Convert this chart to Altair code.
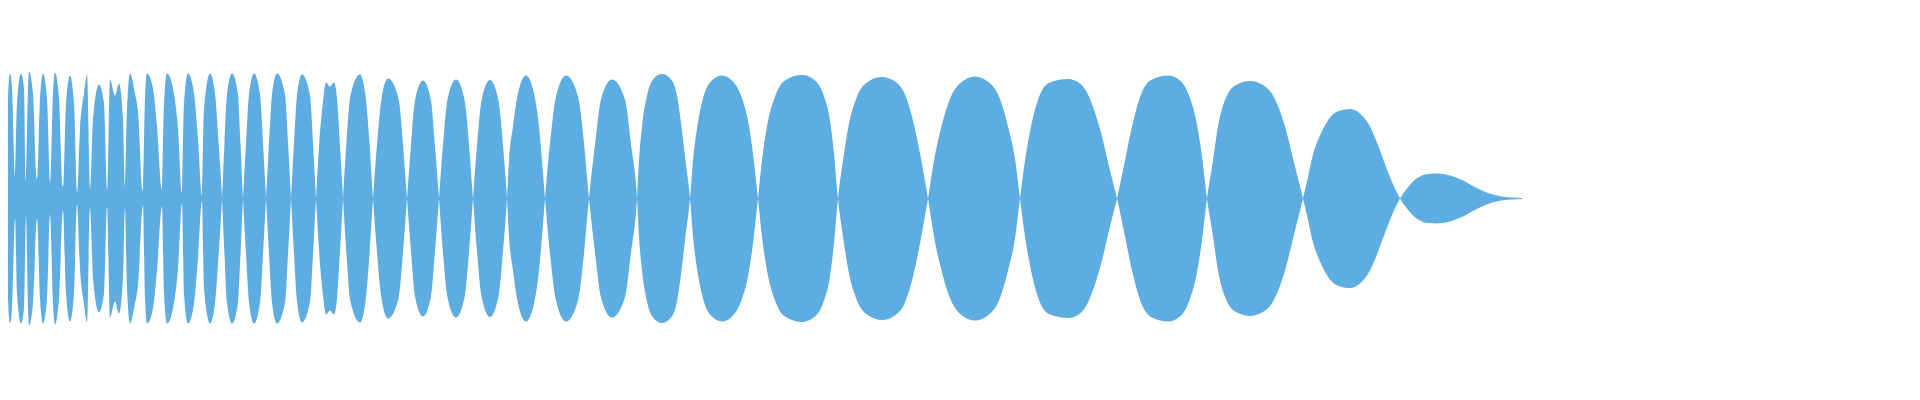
import altair as alt
import pandas as pd

# Dense start of the waveform (envelope, positive side only; dips do not reach zero)
t_dense = [0, 3, 6, 8, 10, 12, 15, 17, 21, 24,
           26, 28, 29, 33, 37, 40, 43, 47, 50, 53,
           55, 59, 63, 66, 70, 74, 77, 80, 84, 87,
           90, 93, 99, 104, 107, 110, 115, 119, 123, 125,
           127, 130, 135, 138, 143, 145, 147, 153, 157, 162,
           164, 167, 173, 178, 182, 184, 188, 194, 198, 202,
           204, 210, 215, 219, 222]
amp_dense = [55, 130, 22, 100, 125, 110, 20, 95, 125, 110,
             18, 110, 127, 105, 20, 100, 125, 100, 16, 105,
             126, 100, 12, 95, 123, 95, 6, 70, 105, 124,
             10, 80, 114, 95, 8, 119, 103, 115, 80, 10,
             90, 125, 105, 87, 7, 100, 125, 110, 72, 8,
             95, 125, 110, 70, 5, 95, 125, 105, 60, 3,
             90, 125, 105, 50, 0]

# Signed waveform, narrower lobes
t_mid = [224.5, 227, 232, 238, 240.5, 243,
         246, 249, 254, 260, 263, 266,
         269, 272, 277, 285, 288, 291,
         294, 297, 302, 310, 313, 316,
         319, 323, 326, 330, 334, 337, 340, 343,
         346.5, 350.5, 360, 365.5, 369.5, 373,
         377, 381.5, 388, 398.5, 403, 407,
         411, 415, 423, 431, 435, 439,
         443, 447.5, 456, 464.5, 469, 473,
         477, 481.5, 490, 498.5, 503, 507,
         509, 513, 518, 526, 534, 539, 542, 545,
         550, 556, 566, 578, 584, 589,
         595, 601, 612, 625, 631, 637]
amp_mid = [-56, -104, -125, -104, -56, 0,
           56, 104, 125, 104, 56, 0,
           -56, -104, -125, -104, -56, 0,
           56, 103, 124, 103, 56, 0,
           -52, -97, -116, -112, -116, -100, -52, 0,
           56, 103, 124, 103, 56, 0,
           -54, -100, -120, -100, -54, 0,
           53, 98, 118, 98, 53, 0,
           -54, -99, -119, -99, -54, 0,
           53, 98, 118.5, 98, 53, 0,
           -38, -72, -105, -123, -105, -72, -38, 0,
           55, 102, 123, 102, 55, 0,
           -54, -99, -119, -99, -54, 0]

# Signed waveform, wide lobes
t_wide = [639, 642, 647, 653, 662, 671, 677, 681, 685, 690,
          693, 697, 703, 710, 722, 733, 741, 748, 753, 758,
          762, 767, 775, 785, 802, 815, 824, 830, 834, 838,
          843, 848, 857, 867, 882, 895, 905, 913, 920, 928,
          934, 941, 951, 961, 975, 989, 999, 1008, 1015, 1020,
          1025, 1031, 1040, 1050, 1068, 1080, 1088, 1095, 1102, 1109, 1117,
          1125, 1132, 1141, 1152, 1168, 1180, 1189, 1197, 1202, 1207,
          1213, 1218, 1227, 1237, 1250, 1262, 1273, 1285, 1294, 1303]
amp_wide = [38, 72, 103, 119, 124.5, 119, 103, 76, 42, 0,
            -38, -70, -100, -116, -123, -117, -103, -78, -45, 0,
            38, 72, 102, 118, 123.5, 118, 102, 78, 45, 0,
            -38, -70, -102, -116, -121.5, -117, -104, -78, -45, 0,
            38, 70, 102, 116, 122, 116, 102, 72, 40, 0,
            -38, -72, -104, -116, -119.5, -115, -104, -86, -62, -32, 0,
            38, 72, 104, 119, 123, 118, 103, 74, 42, 0,
            -38, -72, -103, -114, -117.5, -114, -103, -72, -36, 0]

# Decaying tail
t_tail = [1307, 1313, 1320, 1330, 1340, 1350, 1360, 1370, 1377, 1384, 1391, 1400,
          1407, 1413, 1420, 1428, 1437, 1450, 1463, 1475, 1488, 1500, 1511, 1522]
amp_tail = [17, 44, 63, 81, 88, 89.5, 85, 72, 56, 37, 19, 0,
            -10, -17, -22, -24.5, -25, -23, -18, -11.5, -5.5, -2.3, -1, -0.4]

df = pd.DataFrame({
    "t": t_dense + t_mid + t_wide + t_tail,
    "amp": amp_dense + amp_mid + amp_wide + amp_tail,
})

chart = (
    alt.Chart(df)
    .transform_calculate(neg="-datum.amp")
    .mark_area(interpolate="monotone", color="#5DADE2", clip=True)
    .encode(
        x=alt.X("t:Q", axis=None,
                scale=alt.Scale(domain=[8, 1912], nice=False, zero=False)),
        y=alt.Y("amp:Q", axis=None,
                scale=alt.Scale(domain=[-193.5, 190.5], nice=False, zero=False)),
        y2="neg:Q",
    )
    .properties(width=1904, height=384, padding=0, autosize="none")
    .configure_view(stroke=None)
)

chart.save("out.html", embed_options={"renderer": "svg", "actions": False})
